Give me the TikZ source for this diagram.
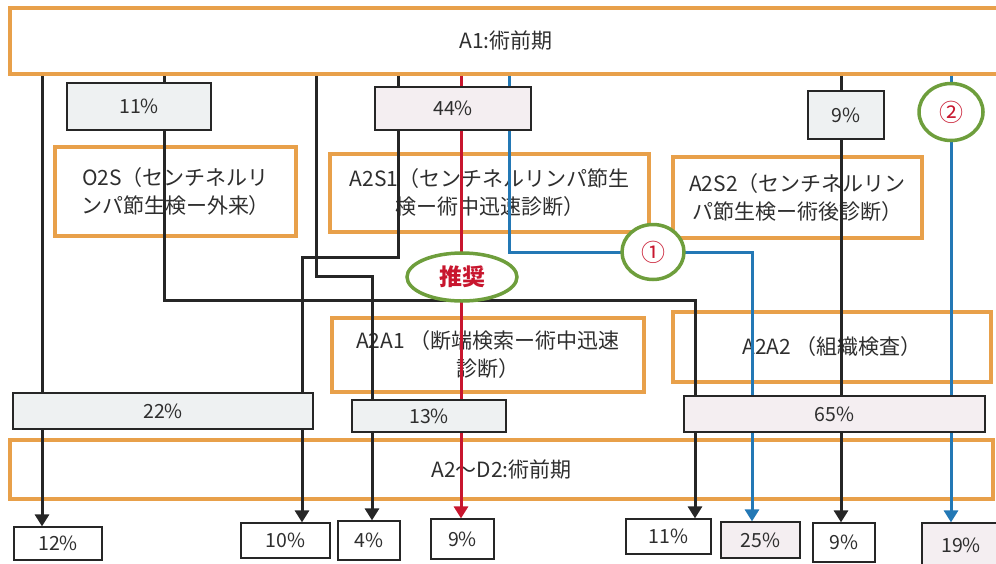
\documentclass[tikz,border=0pt]{standalone}
\usepackage{fontspec}
\setmainfont{Noto Sans CJK JP}
\usetikzlibrary{arrows.meta,shapes.geometric}
\definecolor{orng}{HTML}{E8A04A}
\definecolor{grn}{HTML}{6E9E3C}
\definecolor{redl}{HTML}{C8162E}
\definecolor{bluel}{HTML}{2378B5}
\definecolor{fillg}{HTML}{EEF1F2}
\definecolor{fillp}{HTML}{F4EEF1}
\definecolor{blk}{HTML}{262626}
\definecolor{txt}{HTML}{2E2E2E}
\pgfdeclarelayer{bg}
\pgfdeclarelayer{mid}
\pgfsetlayers{bg,mid,main}
\tikzset{
  obox/.style={draw=orng, line width=3.5pt, inner sep=0pt, align=center, text=txt,
    font=\fontsize{21}{28}\selectfont},
  pbox/.style={draw=black!85, line width=1.2pt, fill=fillg, inner sep=0pt, text=txt,
    font=\fontsize{19.5}{22}\selectfont},
  pboxp/.style={pbox, fill=fillp},
  wbox/.style={pbox, fill=white},
  circ/.style={ellipse, draw=grn, line width=3.5pt, fill=white, inner sep=0pt, text=redl,
    font=\fontsize{24}{26}\selectfont},
  conn/.style={line width=3pt, draw=blk, -{Triangle[width=14pt,length=12pt]}},
  connr/.style={conn, draw=redl},
  connb/.style={conn, draw=bluel},
}
\begin{document}
\begin{tikzpicture}[x=1pt,y=-1pt]
\useasboundingbox (0,0) rectangle (996,563);
\begin{pgfonlayer}{bg}
\node[obox, minimum width=992pt, minimum height=66pt] (A1) at (506,41) {A1:術前期};
\node[obox, minimum width=241pt, minimum height=89pt] (O2S) at (175.5,191.5) {O2S（センチネルリ\\ンパ節生検ー外来）};
\node[obox, minimum width=319pt, minimum height=78pt] (A2S1) at (489.5,193) {A2S1（センチネルリンパ節生\\検ー術中迅速診断）};
\node[obox, minimum width=249pt, minimum height=81pt] (A2S2) at (797.5,197.5) {A2S2（センチネルリン\\パ節生検ー術後診断）};
\node[obox, minimum width=312pt, minimum height=74pt] (A2A1) at (488,355) {A2A1 （断端検索ー術中迅速\\診断）};
\node[obox, minimum width=318pt, minimum height=70pt] (A2A2) at (832,347) {A2A2 （組織検査）};
\node[obox, minimum width=983pt, minimum height=59pt] (A2D2) at (501.5,469.5) {A2〜D2:術前期};
\end{pgfonlayer}
% percentage boxes
\node[pbox, minimum width=144pt, minimum height=47pt] (p11) at (139,106.5) {11\%};
\node[pboxp, minimum width=156pt, minimum height=43pt] (p44) at (453,108.5) {44\%};
\node[pbox, minimum width=76pt, minimum height=48pt] (p9t) at (846,115) {9\%};
\node[pbox, minimum width=300pt, minimum height=36pt] (p22) at (163,411) {22\%};
\node[pbox, minimum width=154pt, minimum height=32pt] (p13) at (429,416) {13\%};
\node[pboxp, minimum width=301pt, minimum height=36pt] (p65) at (834.5,414) {65\%};
% bottom boxes
\node[wbox, minimum width=88pt, minimum height=33pt] (b12) at (58,543.5) {12\%};
\node[wbox, minimum width=89pt, minimum height=35pt] (b10) at (285.5,540.5) {10\%};
\node[wbox, minimum width=62pt, minimum height=39pt] (b4) at (369,540.5) {4\%};
\node[wbox, minimum width=63pt, minimum height=40pt] (b9r) at (462.5,539) {9\%};
\node[wbox, minimum width=85pt, minimum height=35pt] (b11) at (668.5,536.5) {11\%};
\node[pboxp, minimum width=79pt, minimum height=36pt] (b25) at (760.5,540) {25\%};
\node[wbox, minimum width=62pt, minimum height=39pt] (b9b) at (844,542.5) {9\%};
\node[pboxp, minimum width=78pt, minimum height=45pt] (b19) at (961,545.5) {19\%};
% circles
\node[circ, minimum width=62pt, minimum height=55pt] (c1) at (653,252) {①};
\node[circ, minimum width=64pt, minimum height=57pt] (c2) at (951,112) {②};
\node[circ, minimum width=110pt, minimum height=48pt, font=\fontsize{23}{25}\selectfont\bfseries] (rec) at (462,277) {推奨};
% bend points
\coordinate (k1) at (164,300);
\coordinate (k2) at (695,300);
\coordinate (k3) at (316,276);
\coordinate (k4) at (372,276);
\coordinate (k5) at (398,257);
\coordinate (k6) at (302,257);
\coordinate (k7) at (509,252);
\coordinate (k8) at (752,252);
\coordinate (xa) at (42,0);
\coordinate (xr) at (461,0);
\coordinate (xb) at (841,0);
\begin{pgfonlayer}{mid}
\draw[conn] (A1.south -| xa) -- (b12.north -| xa);
\draw[conn] (A1.south -| k1) -- (k1) -- (k2) -- (b11.north -| k2);
\draw[conn] (A1.south -| k3) -- (k3) -- (k4) -- (b4.north -| k4);
\draw[conn] (A1.south -| k5) -- (k5) -- (k6) -- (b10.north -| k6);
\draw[connr] (A1.south -| xr) -- (b9r.north -| xr);
\draw[connb] (A1.south -| k7) -- (k7) -- (k8) -- (b25.north -| k8);
\draw[conn] (A1.south -| xb) -- (b9b.north -| xb);
\draw[connb] (A1.south -| c2) -- (b19.north -| c2);
\end{pgfonlayer}
\end{tikzpicture}
\end{document}
